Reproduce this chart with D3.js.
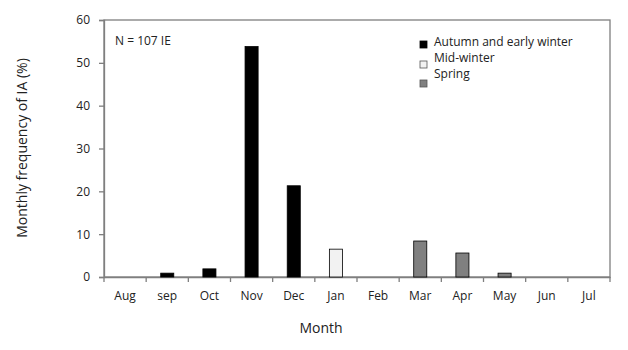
<!DOCTYPE html>
<html><head><meta charset="utf-8">
<script src="https://cdn.jsdelivr.net/npm/d3@7"></script>
<style>body{margin:0;background:#fff}text{font-family:"Open Sans",sans-serif;fill:#222}</style>
</head><body><svg id="c" width="628" height="350"></svg>
<script>
const months = ["Aug","sep","Oct","Nov","Dec","Jan","Feb","Mar","Apr","May","Jun","Jul"];
const values = [0, 0.9, 1.9, 53.8, 21.3, 6.5, 0, 8.4, 5.6, 0.9, 0, 0];
const seasons = ["none","autumn","autumn","autumn","autumn","mid","none","spring","spring","spring","none","none"];
const seriesNames = ["Autumn and early winter","Mid-winter","Spring"];
const seriesKeys = ["autumn","mid","spring"];
const yTicks = [0,10,20,30,40,50,60];

const fills = {autumn:"#000", mid:"#f2f2f2", spring:"#808080", none:"none"};
const svg = d3.select("#c");
const m = {l:104, r:610, t:20, b:277};
const x = d3.scaleBand().domain(months).range([m.l, m.r]).paddingInner(0.69).paddingOuter(0.345);
const xb = d3.scaleBand().domain(months).range([m.l, m.r]);
const y = d3.scaleLinear().domain([0,60]).range([m.b, m.t]);
const axisCol = "#7f7f7f";

// frame
svg.append("rect").attr("x",m.l).attr("y",m.t).attr("width",m.r-m.l).attr("height",m.b-m.t)
  .attr("fill","none").attr("stroke",axisCol).attr("stroke-width",1.3);

// y axis
const ya = svg.append("g").attr("transform",`translate(${m.l},0)`)
  .call(d3.axisLeft(y).tickValues(yTicks).tickSize(5).tickPadding(9));
ya.select(".domain").attr("stroke",axisCol).attr("stroke-width",1.3);
ya.selectAll(".tick line").attr("stroke",axisCol).attr("stroke-width",1.3);
ya.selectAll("text").style("font-size","12px").attr("fill","#222");

// x axis boundary ticks
const xa = svg.append("g").attr("transform",`translate(0,${m.b})`)
  .call(d3.axisBottom(xb).tickSize(0).tickPadding(14));
xa.select(".domain").attr("stroke",axisCol).attr("stroke-width",1.3);
xa.selectAll("text").style("font-size","12px").attr("fill","#222");
const bounds = months.map(d=>xb(d)).concat([m.r]);
svg.append("g").selectAll("line").data(bounds).join("line")
  .attr("x1",d=>d).attr("x2",d=>d).attr("y1",m.b).attr("y2",m.b+5)
  .attr("stroke",axisCol).attr("stroke-width",1.3);

// bars
svg.append("g").selectAll("rect").data(months.map((mo,i)=>({mo,v:values[i],s:seasons[i]})).filter(d=>d.v>0))
  .join("rect")
  .attr("x",d=>x(d.mo)).attr("width",x.bandwidth())
  .attr("y",d=>y(d.v)).attr("height",d=>y(0)-y(d.v))
  .attr("fill",d=>fills[d.s]).attr("stroke","#000").attr("stroke-width",0.8);

// annotation
svg.append("text").attr("x",115).attr("y",45).style("font-size","12px").text("N = 107 IE");

// legend
const lg = svg.append("g");
seriesKeys.forEach((k,i)=>{
  lg.append("rect").attr("x",420).attr("y",41+i*20 - (i===2?1:0)).attr("width",7).attr("height",7)
    .attr("fill",fills[k]).attr("stroke",k==="autumn"?"#000":"#555").attr("stroke-width",0.8);
  lg.append("text").attr("x",434).attr("y",46+i*16).style("font-size","12px").text(seriesNames[i]);
});

// axis titles
svg.append("text").attr("x",321).attr("y",333).attr("text-anchor","middle").style("font-size","14px").text("Month");
svg.append("text").attr("transform","translate(27,148) rotate(-90)").attr("text-anchor","middle")
  .style("font-size","14px").text("Monthly frequency of IA (%)");
</script></body></html>
